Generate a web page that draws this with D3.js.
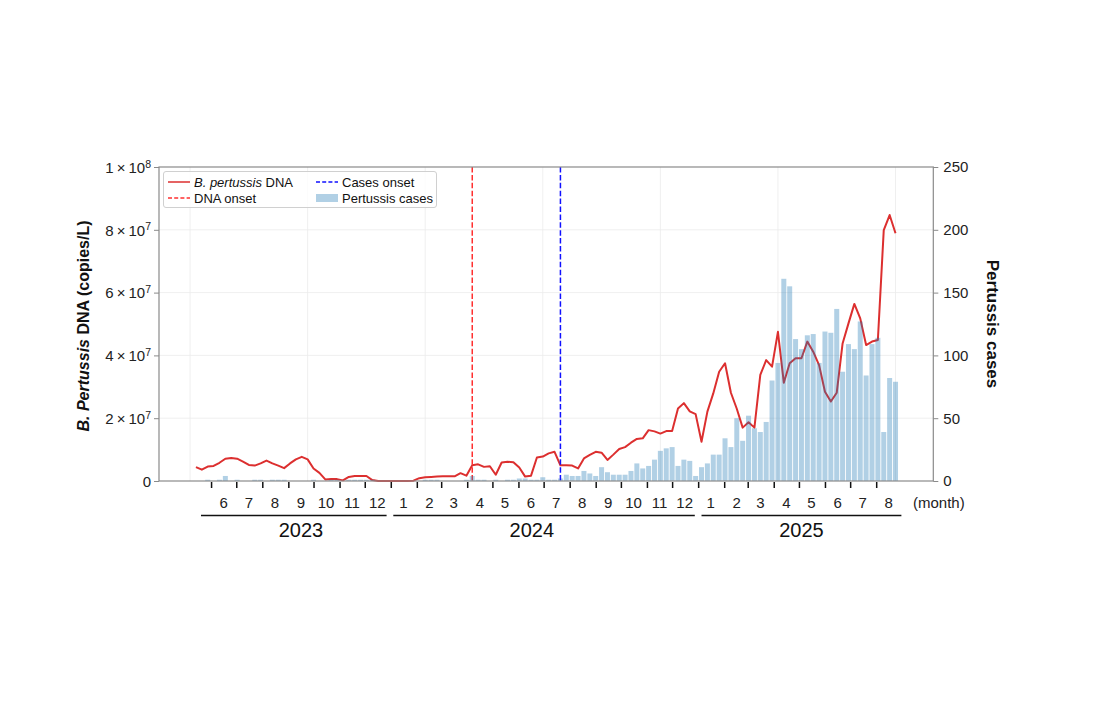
<!DOCTYPE html>
<html>
<head>
<meta charset="utf-8">
<script src="https://cdn.jsdelivr.net/npm/d3@7"></script>
<style>
  body { margin: 0; background: #fff; }
  text { font-family: "Liberation Sans", Arial, sans-serif; }
</style>
</head>
<body>
<div id="chart"></div>
<script>
// weekly B. pertussis DNA in sewage (x 10^6 copies/L), weeks from 2023-05-14
const dnaMillions = [
  4.4, 3.6, 4.6, 4.8, 5.8, 7.1, 7.3, 7.1, 6.2, 5.1,
  4.9, 5.6, 6.5, 5.6, 4.9, 4.1, 5.6, 6.9, 7.7, 6.9,
  4.0, 2.6, 0.5, 0.6, 0.6, 0.2, 1.3, 1.6, 1.6, 1.6,
  0.3, 0, 0, 0, 0, 0, 0, 0.1, 0.9, 1.2,
  1.3, 1.4, 1.5, 1.5, 1.5, 2.5, 1.7, 5.0, 5.3, 4.5,
  4.7, 2.0, 5.9, 6.1, 6.0, 4.3, 1.4, 1.7, 7.5, 7.8,
  8.8, 9.3, 5.0, 5.0, 4.9, 4.0, 7.2, 8.3, 9.3, 9.0,
  6.7, 8.4, 10.2, 10.8, 12.2, 13.4, 13.6, 16.2, 15.8, 15.1,
  15.9, 15.9, 23.1, 24.8, 22.2, 21.3, 12.5, 22.1, 27.9, 34.8,
  37.5, 28.1, 23.0, 17.0, 18.7, 17.0, 33.8, 38.5, 36.4, 47.5,
  31.3, 37.5, 39.1, 39.1, 44.4, 41.2, 36.9, 28.4, 25.3, 28.1,
  43.8, 50.2, 56.4, 51.8, 43.3, 44.4, 44.9, 79.9, 84.7, 78.9
];

// weekly reported pertussis cases
const cases = [
  0, 0, 1, 0, 1, 4, 0, 1, 0, 0,
  1, 1, 0, 1, 1, 1, 0, 0, 0, 0,
  1, 0, 0, 1, 1, 0, 1, 1, 1, 1,
  1, 0, 0, 0, 0, 0, 0, 0, 0, 1,
  1, 1, 0, 0, 0, 0, 1, 4, 1, 1,
  0, 1, 0, 1, 1, 2, 2, 1, 1, 3,
  1, 1, 2, 5, 4, 4, 8, 6, 4, 11,
  7, 5, 5, 5, 8, 14, 10, 12, 17, 24,
  26, 27, 12, 17, 16, 4, 11, 14, 21, 21,
  34, 27, 50, 32, 52, 42, 39, 47, 80, 94,
  161, 155, 113, 105, 116, 117, 94, 119, 118, 137,
  87, 109, 105, 127, 84, 109, 114, 39, 82, 79
];

const weeks = d3.timeWeek.range(new Date(2023, 4, 14), new Date(2025, 7, 25));
const dnaOnset = new Date(2024, 3, 7);     // week of the DNA rise
const casesOnset = new Date(2024, 6, 21);  // week of the case rise

const leftTicks = [0, 2e7, 4e7, 6e7, 8e7, 1e8];
const rightTicks = [0, 50, 100, 150, 200, 250];
const years = [
  { label: "2023", from: new Date(2023, 4, 20), to: new Date(2023, 11, 27), mid: new Date(2023, 8, 16) },
  { label: "2024", from: new Date(2024, 0, 4), to: new Date(2024, 11, 28), mid: new Date(2024, 5, 17) },
  { label: "2025", from: new Date(2025, 0, 5), to: new Date(2025, 7, 31), mid: new Date(2025, 4, 4) }
];

const width = 1100, height = 709;
const plotLeft = 159, plotRight = 933.3, plotTop = 167, plotBottom = 481;

const svg = d3.select("#chart").append("svg")
  .attr("width", width).attr("height", height);

const x = d3.scaleTime()
  .domain([new Date(2023, 2, 31), new Date(2025, 9, 8)])
  .range([plotLeft, plotRight]);
const y = d3.scaleLinear().domain([0, 1e8]).range([plotBottom, plotTop]);
const yR = d3.scaleLinear().domain([0, 250]).range([plotBottom, plotTop]);

const grey = "#8a8a8a";
const red = "#dc2f2f";

// grid
const gridDates = d3.range(0, 7).map(k => d3.timeDay.offset(new Date(2023, 4, 7), 140 * k));
svg.append("g").selectAll("line").data(gridDates).enter().append("line")
  .attr("x1", d => x(d)).attr("x2", d => x(d))
  .attr("y1", plotTop).attr("y2", plotBottom)
  .attr("stroke", "#ebebeb").attr("stroke-width", 0.8);
svg.append("g").selectAll("line").data(leftTicks.slice(1, -1)).enter().append("line")
  .attr("x1", plotLeft).attr("x2", plotRight)
  .attr("y1", d => y(d)).attr("y2", d => y(d))
  .attr("stroke", "#ebebeb").attr("stroke-width", 0.8);

// DNA line
const line = d3.line()
  .x((d, i) => x(weeks[i]))
  .y(d => y(d * 1e6));
svg.append("path")
  .datum(dnaMillions)
  .attr("fill", "none")
  .attr("stroke", red)
  .attr("stroke-width", 2)
  .attr("stroke-linejoin", "round")
  .attr("d", line);

svg.append("line")
  .attr("x1", x(dnaOnset)).attr("x2", x(dnaOnset))
  .attr("y1", plotTop).attr("y2", plotBottom)
  .attr("stroke", "#ff3030").attr("stroke-width", 1.5)
  .attr("stroke-dasharray", "5.5,2.4");

// case bars (drawn on the twin axis, over the line)
const barW = (x(weeks[1]) - x(weeks[0])) * 0.85;
svg.append("g").selectAll("rect").data(cases).enter().append("rect")
  .attr("x", (d, i) => x(weeks[i]) - barW / 2)
  .attr("width", barW)
  .attr("y", d => yR(d))
  .attr("height", d => plotBottom - yR(d))
  .attr("fill", "#1f77b4")
  .attr("fill-opacity", 0.35);

svg.append("line")
  .attr("x1", x(casesOnset)).attr("x2", x(casesOnset))
  .attr("y1", plotTop).attr("y2", plotBottom)
  .attr("stroke", "#1010ff").attr("stroke-width", 1.5)
  .attr("stroke-dasharray", "5.5,2.4");

// frame
svg.append("rect")
  .attr("x", plotLeft).attr("y", plotTop)
  .attr("width", plotRight - plotLeft).attr("height", plotBottom - plotTop)
  .attr("fill", "none").attr("stroke", grey).attr("stroke-width", 1.2);

// left axis
const gL = svg.append("g")
  .attr("transform", `translate(${plotLeft},0)`)
  .call(d3.axisLeft(y).tickValues(leftTicks).tickSize(5).tickPadding(4).tickFormat(""));
gL.select(".domain").remove();
gL.selectAll(".tick line").attr("stroke", grey);
gL.selectAll(".tick").each(function(d) {
  const t = d3.select(this).append("text")
    .attr("x", -8).attr("dy", "0.35em")
    .attr("text-anchor", "end")
    .attr("fill", "#222")
    .style("font-size", "15px");
  if (d === 0) { t.text("0"); return; }
  const e = Math.floor(Math.log10(d));
  const m = Math.round(d / Math.pow(10, e));
  t.append("tspan").text(m + "\u2009\u00d7\u200910");
  t.append("tspan").attr("dy", "-0.5em").style("font-size", "10.5px").text(e);
});

// right axis
const gR = svg.append("g")
  .attr("transform", `translate(${plotRight},0)`)
  .call(d3.axisRight(yR).tickValues(rightTicks).tickSize(5).tickPadding(5));
gR.select(".domain").remove();
gR.selectAll(".tick line").attr("stroke", grey);
gR.selectAll(".tick text")
  .attr("fill", "#222")
  .style("font-size", "15px")
  .style("font-family", "Liberation Sans, Arial, sans-serif");

// axis titles
const yl = svg.append("text")
  .attr("transform", `translate(89,${(plotTop + plotBottom) / 2 + 2}) rotate(-90)`)
  .attr("text-anchor", "middle")
  .style("font-size", "16px").style("font-weight", "bold").attr("fill", "#111");
yl.append("tspan").style("font-style", "italic").text("B. Pertussis");
yl.append("tspan").text(" DNA (copies/L)");

svg.append("text")
  .attr("transform", `translate(987,${(plotTop + plotBottom) / 2}) rotate(90)`)
  .attr("text-anchor", "middle")
  .style("font-size", "17px").style("font-weight", "bold").attr("fill", "#111")
  .text("Pertussis cases");

// month axis
const monthStarts = d3.timeMonth.range(new Date(2023, 5, 1), new Date(2025, 7, 2));
const gM = svg.append("g")
  .attr("transform", `translate(0,${plotBottom + 1})`)
  .call(d3.axisBottom(x).tickValues(monthStarts).tickSize(6).tickFormat(""));
gM.select(".domain").remove();
gM.selectAll(".tick line").attr("stroke", "#111").attr("stroke-width", 1.5);

svg.append("g").selectAll("text").data(monthStarts).enter().append("text")
  .attr("x", d => x(d3.timeDay.offset(d, 15)))
  .attr("y", 508)
  .attr("text-anchor", "middle")
  .attr("fill", "#222")
  .style("font-size", "15px")
  .text(d => d.getMonth() + 1);

svg.append("text")
  .attr("x", 913).attr("y", 508)
  .attr("fill", "#222")
  .style("font-size", "15px")
  .text("(month)");

// year brackets
svg.append("g").selectAll("line").data(years).enter().append("line")
  .attr("x1", d => x(d.from)).attr("x2", d => x(d.to))
  .attr("y1", 515.5).attr("y2", 515.5)
  .attr("stroke", "#111").attr("stroke-width", 1.6);
svg.append("g").selectAll("text").data(years).enter().append("text")
  .attr("x", d => x(d.mid))
  .attr("y", 537)
  .attr("text-anchor", "middle")
  .attr("fill", "#111")
  .style("font-size", "20px")
  .text(d => d.label);

// legend
const lg = svg.append("g");
lg.append("rect")
  .attr("x", 163.5).attr("y", 171.5).attr("width", 273).attr("height", 36)
  .attr("rx", 2.5)
  .attr("fill", "#fff").attr("fill-opacity", 0.8)
  .attr("stroke", "#d0d0d0");
const legendItems = [
  { col: 0, row: 0, kind: "line", color: red, dash: null },
  { col: 0, row: 1, kind: "line", color: "#ff3030", dash: "4,2.2" },
  { col: 1, row: 0, kind: "line", color: "#1010ff", dash: "4,2.2" },
  { col: 1, row: 1, kind: "patch", color: "#1f77b4" }
];
const colX = [168, 316], rowY = [182, 198];
legendItems.forEach(it => {
  const lx = colX[it.col], ly = rowY[it.row];
  if (it.kind === "line") {
    lg.append("line")
      .attr("x1", lx).attr("x2", lx + 22).attr("y1", ly).attr("y2", ly)
      .attr("stroke", it.color).attr("stroke-width", 1.5)
      .attr("stroke-dasharray", it.dash);
  } else {
    lg.append("rect")
      .attr("x", lx).attr("y", ly - 4).attr("width", 22).attr("height", 8)
      .attr("fill", it.color).attr("fill-opacity", 0.35);
  }
});
const legendFont = "13px";
const l1 = lg.append("text").attr("x", 194).attr("y", 186.5).style("font-size", legendFont).attr("fill", "#111");
l1.append("tspan").style("font-style", "italic").text("B. pertussis");
l1.append("tspan").text(" DNA");
lg.append("text").attr("x", 194).attr("y", 202.5).style("font-size", legendFont).attr("fill", "#111").text("DNA onset");
lg.append("text").attr("x", 342).attr("y", 186.5).style("font-size", legendFont).attr("fill", "#111").text("Cases onset");
lg.append("text").attr("x", 342).attr("y", 202.5).style("font-size", legendFont).attr("fill", "#111").text("Pertussis cases");
</script>
</body>
</html>
